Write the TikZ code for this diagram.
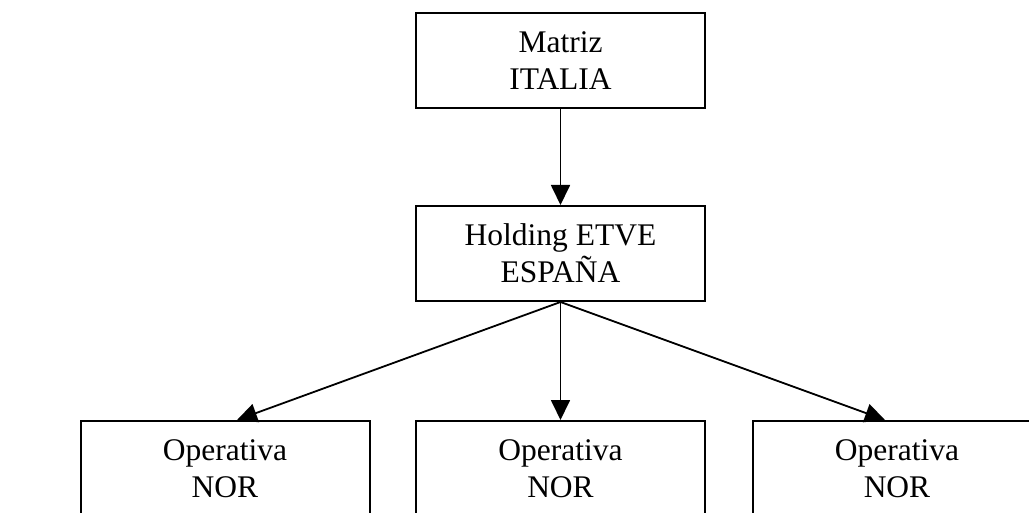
\documentclass[tikz,border=0pt]{standalone}
\usepackage{fontspec}
\setmainfont{Liberation Serif}
\usetikzlibrary{arrows.meta}
\begin{document}
\begin{tikzpicture}[x=1pt,y=-1pt,
  orgbox/.style={draw=black,line width=2pt,minimum width=289pt,minimum height=95pt,
    inner sep=0pt,align=center,font=\fontsize{31.5}{37}\selectfont},
  conn/.style={line width=1.8pt,-{Triangle[length=20pt,width=19pt]}}]
\useasboundingbox (0,0) rectangle (1029,513);
\clip (0,0) rectangle (1029,513);
\node[orgbox] (top) at (560.5,60.5) {Matriz\\ITALIA};
\node[orgbox] (mid) at (560.5,253.5) {Holding ETVE\\ESPAÑA};
\node[orgbox] (b1) at (225,468.5) {Operativa\\NOR};
\node[orgbox] (b2) at (560.5,468.5) {Operativa\\NOR};
\node[orgbox] (b3) at (897,468.5) {Operativa\\NOR};
\draw[conn] (top.south) -- (mid.north);
\draw[conn] (mid.south) -- ([xshift=12pt]b1.north);
\draw[conn] (mid.south) -- (b2.north);
\draw[conn] (mid.south) -- ([xshift=-12pt]b3.north);
\end{tikzpicture}
\end{document}
